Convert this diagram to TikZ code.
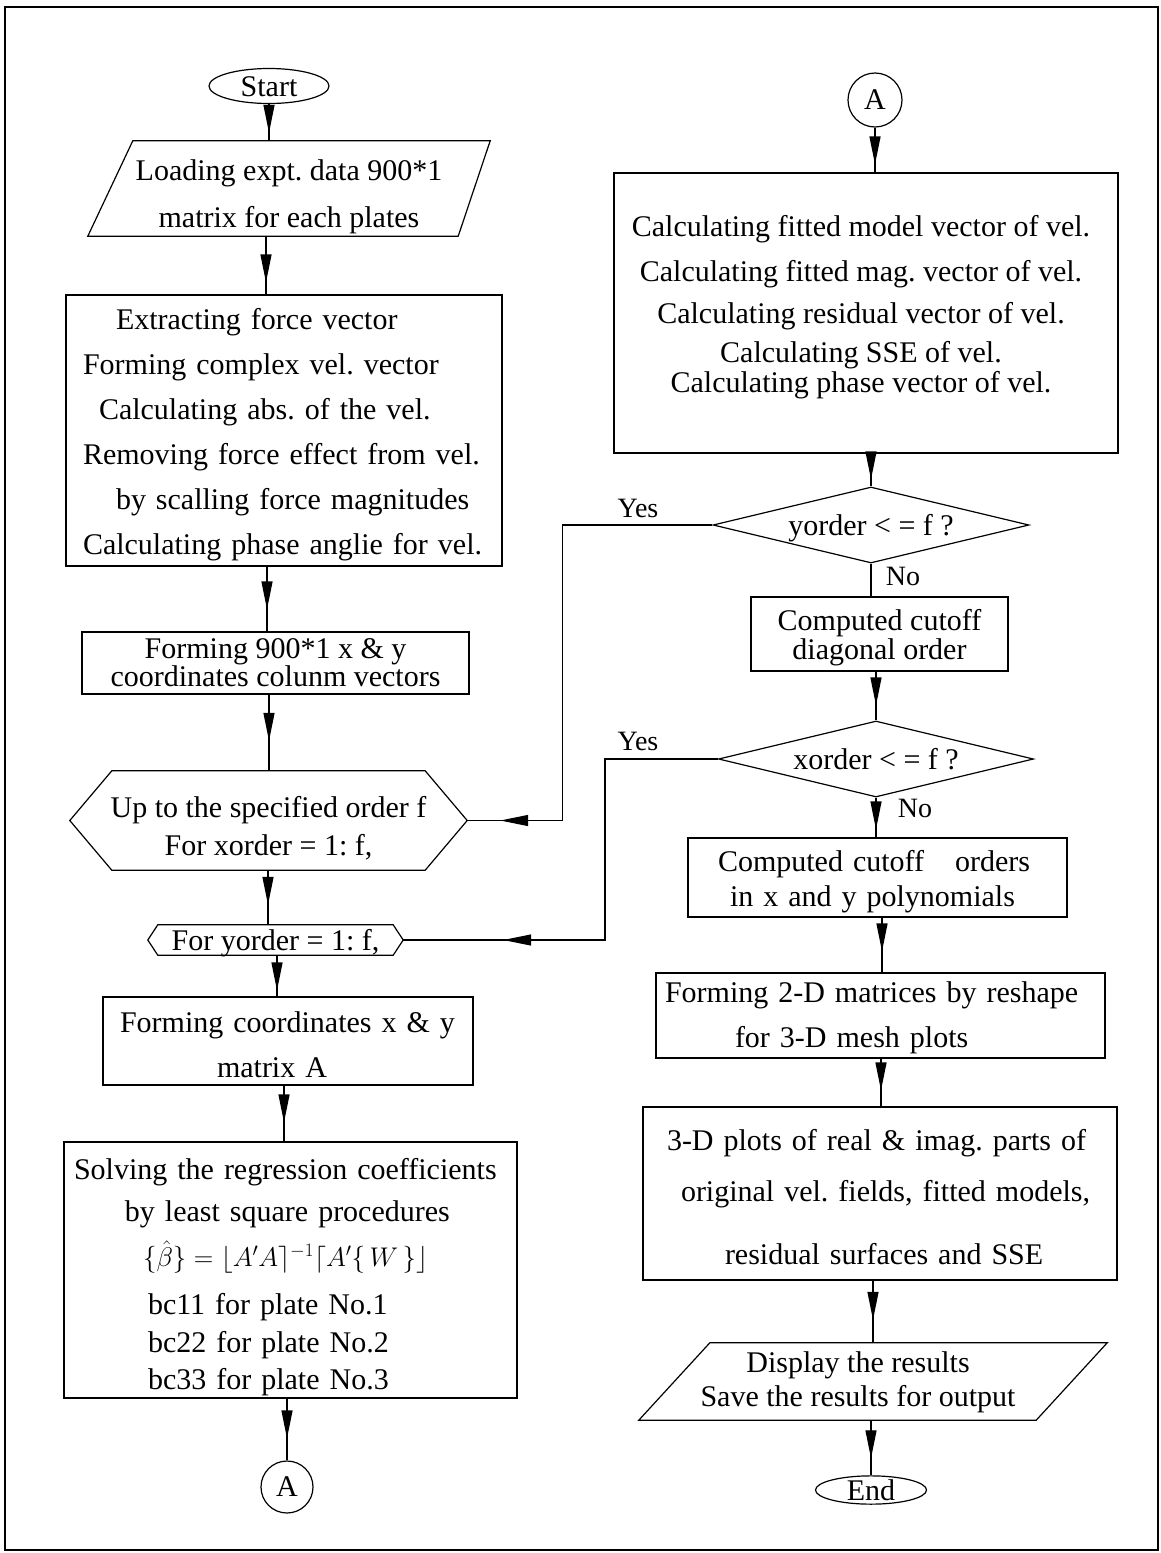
\RequirePackage{fix-cm}
\documentclass[tikz,border=0pt]{standalone}
\usepackage{fontspec}
\setmainfont{Liberation Serif}
\usetikzlibrary{shapes.geometric,arrows.meta,decorations.markings,calc}
\AtBeginDocument{\frenchspacing}
\tikzset{
  ln/.style={line width=1.2pt},
  fs/.style={font=\fontsize{30}{#1}\selectfont},
  fs/.default=45,
  box/.style={draw, line width=1.2pt, rectangle, inner sep=0pt},
  lab/.style={font=\fontsize{28}{30}\selectfont, inner sep=0pt},
  term/.style={draw, line width=1.2pt, ellipse, inner sep=0pt, text height=20pt, text depth=0pt, font=\fontsize{30}{30}\selectfont},
  dec/.style={draw, line width=1.2pt, diamond, inner sep=0pt, aspect=4.16, text height=20pt, text depth=0pt, font=\fontsize{30}{30}\selectfont},
  conn/.style={draw, line width=1.2pt, circle, inner sep=0pt, font=\fontsize{30}{30}\selectfont},
  arr/.style={postaction={decorate}, decoration={markings, mark=at position #1 with {\arrow{Triangle[length=28pt,width=11pt]}}}}
}
\begin{document}
\begin{tikzpicture}[x=1pt,y=-1pt, every node/.style={inner sep=0pt}]
\useasboundingbox (0,0) rectangle (1161,1553);
\draw[line width=2.5pt] (5,7) rectangle (1158,1550);

% ---------- left column ----------
\node[term, minimum width=120pt, minimum height=35pt] (start) at (269,86) {Start};

\node[minimum width=402pt, minimum height=95pt] (load) at (289,188.5) {};
\draw[ln] (load.south west) -- ([xshift=45pt]load.north west) -- (load.north east) -- ([xshift=-32pt]load.south east) -- cycle;
\node[fs=47, align=center] (loadt) at ([yshift=-8pt]load.center) {Loading expt. data 900*1\\matrix for each plates};

\node[box, minimum width=436pt, minimum height=271pt] (extract) at (284,430.5) {};
\node[fs=45, text width=402pt, align=left] (extractt) at ([yshift=-4pt]extract.center)
 {\hspace*{33pt}Extracting force vector\\Forming complex vel. vector\\\hspace*{16pt}Calculating abs. of the vel.\\Removing force effect from vel.\\\hspace*{33pt}by scalling force magnitudes\\Calculating phase anglie for vel.};

\node[box, minimum width=387pt, minimum height=62pt, fs=27, align=center] (coords) at (275.5,663) {Forming 900*1 x \& y\\coordinates colunm vectors};

\node[minimum width=397pt, minimum height=99pt] (hexa) at (268.5,820.5) {};
\draw[ln] (hexa.west) -- ([xshift=42pt]hexa.north west) -- ([xshift=-42pt]hexa.north east) -- (hexa.east) -- ([xshift=-42pt]hexa.south east) -- ([xshift=42pt]hexa.south west) -- cycle;
\node[fs=38, align=center] (hexat) at ([yshift=-8pt]hexa.center) {Up to the specified order f\\For xorder = 1: f,};

\node[minimum width=255pt, minimum height=30pt, fs=30, text height=20pt, text depth=0pt] (hexb) at (275.5,940) {For yorder = 1: f,};
\draw[ln] (hexb.west) -- ([xshift=10pt]hexb.north west) -- ([xshift=-10pt]hexb.north east) -- (hexb.east) -- ([xshift=-10pt]hexb.south east) -- ([xshift=10pt]hexb.south west) -- cycle;

\node[box, minimum width=370pt, minimum height=88pt] (forma) at (288,1041) {};
\node[fs=45, text width=336pt, align=left] (format) at ([yshift=-4pt]forma.center)
 {Forming coordinates x \& y\\\hspace*{97pt}matrix A};

\node[box, minimum width=453pt, minimum height=256pt] (solve) at (290.5,1270) {};
\node[fs=40, text width=433pt, align=left] (solvet) at ([yshift=-7pt]solve.center)
 {Solving the regression coefficients\\[2pt]\hspace*{51pt}by least square procedures\\[5pt]\hspace*{69pt}{\fontsize{27}{40}\selectfont$\{\hat{\beta}\} = \lfloor A'A\rceil^{-1}\lceil A'\{\,W\,\}\rfloor$}\\[8pt]\hspace*{74pt}bc11 for plate No.1\\[-2pt]\hspace*{74pt}bc22 for plate No.2\\[-3pt]\hspace*{74pt}bc33 for plate No.3};

\node[conn, minimum size=52pt] (ab) at (287,1487) {A};

% ---------- right column ----------
\node[conn, minimum size=54pt] (at) at (875,100) {A};

\node[box, minimum width=504pt, minimum height=280pt] (calc) at (866,313) {};
\node[fs=45, align=center] (calct) at (861,307) {Calculating fitted model vector of vel.\\Calculating fitted mag. vector of vel.\\[-3pt]Calculating residual vector of vel.\\[-6pt]Calculating SSE of vel.\\[-15pt]Calculating phase vector of vel.};

\node[dec, minimum width=316pt, minimum height=76pt] (yd) at (871,525) {yorder < = f ?};

\node[box, minimum width=257pt, minimum height=74pt] (cd) at (879.5,634) {};
\node[fs=29, align=center] (cdt) at ([yshift=-4pt]cd.center) {Computed cutoff\\diagonal order};

\node[dec, minimum width=315pt, minimum height=76pt] (xd) at (876,759) {xorder < = f ?};

\node[box, minimum width=379pt, minimum height=79pt] (co) at (877.5,877.5) {};
\node[fs=35, text width=319pt, align=left] (cot) at ([yshift=-4pt]co.center)
 {Computed cutoff\hspace{31pt}orders\\\hspace*{12pt}in x and y polynomials};

\node[box, minimum width=449pt, minimum height=85pt] (twod) at (880.5,1015.5) {};
\node[fs=45, text width=431pt, align=left] (twodt) at ([yshift=-2pt]twod.center)
 {Forming 2-D matrices by reshape\\\hspace*{70pt}for 3-D mesh plots};

\node[box, minimum width=474pt, minimum height=173pt] (thd) at (880,1193.5) {};
\node[fs=51, text width=450pt, align=left] (thdt) at (880,1197)
 {\hspace*{12pt}3-D plots of real \& imag. parts of\\\hspace*{26pt}original vel. fields, fitted models,\\[12pt]\hspace*{70pt}residual surfaces and SSE};

\node[minimum width=468pt, minimum height=77pt] (disp) at (873,1381.5) {};
\draw[ln] (disp.south west) -- ([xshift=71pt]disp.north west) -- (disp.north east) -- ([xshift=-71pt]disp.south east) -- cycle;
\node[fs=34, align=center] (dispt) at (858,1382) {Display the results\\Save the results for output};

\node[term, minimum width=111pt, minimum height=28pt] (end) at (871,1490) {End};

% labels
\node[lab] (yes1) at (638,508) {Yes};
\node[lab] (no1) at (903,576) {No};
\node[lab] (yes2) at (638,741) {Yes};
\node[lab] (no2) at (915,808) {No};

% ---------- connectors ----------
\coordinate (c1) at (266,0);
\coordinate (c2) at (267,0);
\coordinate (c3) at (269,0);
\coordinate (c4) at (268,0);
\coordinate (c5) at (277,0);
\coordinate (c6) at (284,0);
\coordinate (c7) at (882,0);
\coordinate (c8) at (881,0);

\draw[ln, arr=-8pt] (start.south) -- (start.south |- load.north);
\draw[ln, arr=-12pt] (load.south -| c1) -- (extract.north -| c1);
\draw[ln, arr=-22pt] (extract.south -| c2) -- (coords.north -| c2);
\draw[ln, arr=-30pt] (coords.south -| c3) -- (hexa.north -| c3);
\draw[ln, arr=-20pt] (hexa.south -| c4) -- (hexb.north -| c4);
\draw[ln, arr=-6pt] (hexb.south -| c5) -- (forma.north -| c5);
\draw[ln, arr=-19pt] (forma.south -| c6) -- (solve.north -| c6);
\draw[ln, arr=-22pt] (solve.south -| ab.north) -- (ab.north);

\draw[ln, arr=-8pt] (at.south) -- (at.south |- calc.north);
\draw[ln, arr=-7pt] (calc.south -| yd.north) -- (yd.north);
\draw[ln] (yd.south) -- (yd.south |- cd.north);
\draw[ln, arr=-15pt] (cd.south -| xd.north) -- (xd.north);
\draw[ln, arr=-8pt] (xd.south) -- (xd.south |- co.north);
\draw[ln, arr=-21pt] (co.south -| c7) -- (twod.north -| c7);
\draw[ln, arr=-16pt] (twod.south -| c8) -- (thd.north -| c8);
\draw[ln, arr=-23pt] (thd.south -| disp.north) -- (disp.north);
\draw[ln, arr=-17pt] (disp.south -| end.north) -- (end.north);

\draw[ln, arr=-33pt] (yd.west) -- ++(-150,0) |- (hexa.east);
\draw[ln, arr=-100pt] (xd.west) -- ++(-113,0) |- (hexb.east);
\end{tikzpicture}
\end{document}
